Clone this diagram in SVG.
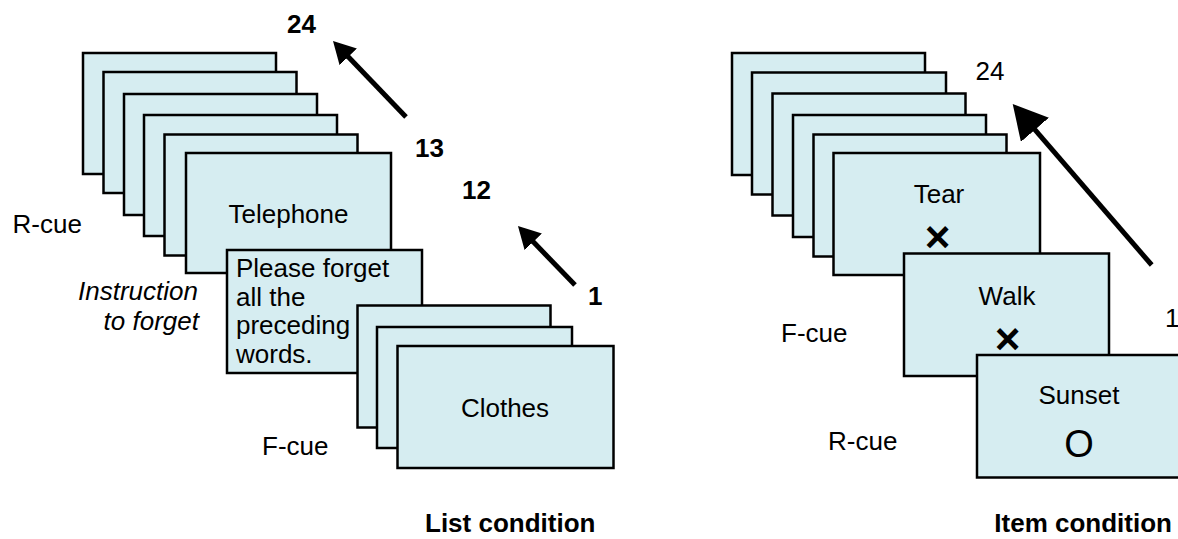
<svg xmlns="http://www.w3.org/2000/svg" width="1178" height="539" viewBox="0 0 1178 539">
<style>
.card{fill:#D6EDF1;stroke:#000;stroke-width:2.5}
text{font-family:"Liberation Sans",Arial,sans-serif;font-size:26px;fill:#000}
.b{font-weight:bold}
.i{font-style:italic}
.m{text-anchor:middle}
.e{text-anchor:end}
.x{font-weight:bold;font-size:44px;text-anchor:middle}
.arr{stroke:#000;stroke-width:5;fill:none}
</style>
<defs>
<marker id="hs" markerUnits="userSpaceOnUse" markerWidth="30" markerHeight="30" refX="8" refY="12" orient="auto">
<path d="M0,0 L22,12 L0,24 z" fill="#000"/>
</marker>
<marker id="hl" markerUnits="userSpaceOnUse" markerWidth="40" markerHeight="40" refX="10" refY="18.5" orient="auto">
<path d="M0,0 L34,18.5 L0,37 z" fill="#000"/>
</marker>
</defs>
<rect width="1178" height="539" fill="#fff"/>

<g id="list-back-cards">
<rect class="card" x="83" y="53" width="193" height="121"/>
<rect class="card" x="103.5" y="72" width="193" height="121"/>
<rect class="card" x="124" y="94" width="193" height="121"/>
<rect class="card" x="144" y="115" width="193" height="121"/>
<rect class="card" x="164.5" y="134.5" width="193" height="121"/>
</g>
<g id="telephone">
<rect class="card" x="186" y="153" width="205" height="120"/>
<text class="m" x="288.5" y="223">Telephone</text>
</g>
<g id="instruction">
<rect class="card" x="227" y="250" width="195" height="123"/>
<text x="236" y="277">Please forget</text>
<text x="236" y="305.7">all the</text>
<text x="236" y="334.4">preceding</text>
<text x="236" y="363">words.</text>
</g>
<g id="list-front-cards">
<rect class="card" x="357.5" y="305.5" width="193" height="122"/>
<rect class="card" x="377" y="327" width="195" height="121"/>
</g>
<g id="clothes">
<rect class="card" x="397.5" y="346" width="216" height="122"/>
<text class="m" x="505" y="417">Clothes</text>
</g>

<g id="item-back-cards">
<rect class="card" x="732" y="53" width="193" height="122"/>
<rect class="card" x="752" y="72.5" width="194" height="122"/>
<rect class="card" x="772.5" y="93.5" width="193" height="122"/>
<rect class="card" x="793" y="115" width="193" height="122"/>
<rect class="card" x="813.5" y="134.5" width="193" height="122"/>
</g>
<g id="tear">
<rect class="card" x="833.5" y="153" width="206.5" height="122"/>
<text class="m" x="939" y="203">Tear</text>
<text class="x" x="937.5" y="252">×</text>
</g>
<g id="walk">
<rect class="card" x="904" y="253.5" width="205" height="122.5"/>
<text class="m" x="1007" y="305">Walk</text>
<text class="x" x="1007.5" y="354">×</text>
</g>
<g id="sunset">
<rect class="card" x="977" y="355" width="206" height="122.5"/>
<text class="m" x="1079" y="404">Sunset</text>
<text class="m" x="1079" y="457" style="font-size:38px">O</text>
</g>

<g id="connectors">
<line class="arr" x1="406" y1="117" x2="342.7" y2="51.1" marker-end="url(#hs)"/>
<line class="arr" x1="575" y1="285" x2="527.7" y2="236.1" marker-end="url(#hs)"/>
<line class="arr" x1="1151.7" y1="265" x2="1028.4" y2="122.2" marker-end="url(#hl)"/>
</g>

<g id="labels">
<text x="12.5" y="233">R-cue</text>
<text class="i e" x="198" y="300">Instruction</text>
<text class="i e" x="199" y="330">to forget</text>
<text x="262" y="455">F-cue</text>
<text class="b" x="287" y="33">24</text>
<text class="b" x="415" y="157">13</text>
<text class="b" x="462" y="199">12</text>
<text class="b" x="588" y="305">1</text>
<text class="b" x="425" y="532">List condition</text>
<text x="975.5" y="80">24</text>
<text x="1165" y="327">1</text>
<text x="781" y="342">F-cue</text>
<text x="828" y="450">R-cue</text>
<text class="b e" x="1172" y="532">Item condition</text>
</g>
</svg>
